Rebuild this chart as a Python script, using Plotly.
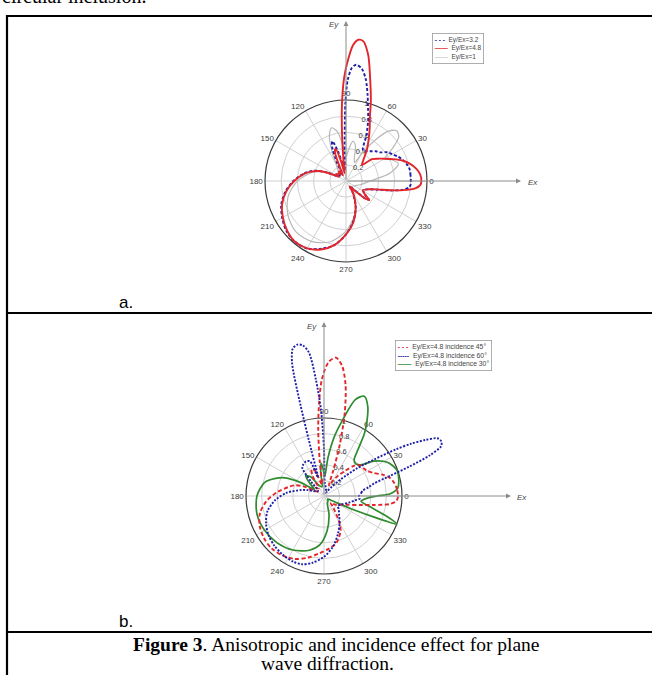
import plotly.graph_objects as go

W, H = 652, 675

# ---------------- data ----------------
ANGLE_TICKS = [0, 30, 60, 90, 120, 150, 180, 210, 240, 270, 300, 330]
RADIAL_TICKS = [0.2, 0.4, 0.6, 0.8, 1.0]
RADIAL_LABELS = ["0.2", "0.4", "0.6", "0.8", "1"]

# panel a : Ey/Ex = 4.8
theta_a_48 = [0, 5, 10, 15, 20, 25, 30, 35, 40, 45, 50, 56, 62, 66, 69, 73, 77, 80, 83, 85,
              87, 89, 91, 93, 95, 97, 100, 104, 108, 111, 114, 118, 125, 135, 145, 150, 155, 160, 165, 170,
              180, 190, 200, 210, 220, 230, 240, 250, 260, 270, 280, 290, 300, 305, 312, 318, 321, 325, 332, 340,
              345, 348, 351, 354, 357, 360]
r_a_48 = [0.93, 0.92, 0.88, 0.82, 0.74, 0.64, 0.55, 0.48, 0.42, 0.28, 0.33, 0.46, 0.60, 0.72, 0.82, 1.05, 1.32, 1.58, 1.74, 1.75,
          1.68, 1.50, 1.28, 0.95, 0.55, 0.25, 0.10, 0.25, 0.42, 0.38, 0.20, 0.08, 0.15, 0.12, 0.15, 0.10, 0.22, 0.36, 0.45, 0.52,
          0.64, 0.75, 0.84, 0.90, 0.95, 0.98, 0.96, 0.90, 0.80, 0.66, 0.52, 0.35, 0.18, 0.08, 0.15, 0.33, 0.37, 0.28, 0.24, 0.30,
          0.40, 0.55, 0.72, 0.86, 0.92, 0.93]

# panel a : Ey/Ex = 3.2
theta_a_32 = [0, 5, 10, 15, 20, 25, 30, 35, 40, 45, 50, 55, 61, 66, 70, 73, 76, 79, 82, 85,
              87, 89, 90.5, 91.5, 93, 96, 100, 105, 109, 112, 116, 120, 130, 140, 150, 155, 160, 165, 170, 180,
              190, 200, 210, 220, 230, 240, 250, 260, 270, 280, 290, 300, 305, 312, 318, 321, 325, 332, 340, 345,
              348, 351, 354, 357, 360]
r_a_32 = [0.80, 0.80, 0.80, 0.78, 0.75, 0.71, 0.66, 0.62, 0.55, 0.52, 0.48, 0.45, 0.43, 0.62, 0.80, 0.93, 1.10, 1.28, 1.40, 1.44,
          1.40, 1.25, 0.95, 0.60, 0.35, 0.14, 0.18, 0.38, 0.52, 0.46, 0.25, 0.10, 0.14, 0.10, 0.12, 0.22, 0.37, 0.46, 0.53, 0.65,
          0.76, 0.85, 0.91, 0.96, 0.98, 0.96, 0.89, 0.80, 0.66, 0.51, 0.35, 0.17, 0.08, 0.14, 0.32, 0.36, 0.28, 0.24, 0.30, 0.42,
          0.56, 0.70, 0.78, 0.80, 0.80]

# panel a : Ey/Ex = 1
theta_a_1 = [0, 10, 18, 25, 30, 35, 40, 45, 50, 55, 60, 65, 70, 75, 80, 85, 90, 95, 100, 105,
             110, 115, 120, 130, 145, 155, 165, 180, 195, 210, 225, 240, 255, 270, 285, 300, 315, 330, 345, 360]
r_a_1 = [0.30, 0.55, 0.68, 0.62, 0.55, 0.70, 0.85, 0.88, 0.80, 0.60, 0.40, 0.25, 0.30, 0.45, 0.50, 0.40, 0.30, 0.45, 0.62, 0.68,
         0.60, 0.42, 0.25, 0.15, 0.12, 0.25, 0.42, 0.60, 0.74, 0.83, 0.88, 0.86, 0.78, 0.62, 0.42, 0.22, 0.10, 0.12, 0.18, 0.30]

# panel b : Ey/Ex = 4.8, incidence 45
theta_b_45 = [0, 5, 10, 15, 20, 25, 30, 35, 40, 45, 50, 55, 60, 65, 70, 73, 76, 79, 82, 85,
              88, 91, 93, 95, 97, 100, 105, 110, 115, 120, 125, 135, 145, 155, 160, 165, 175, 185, 195, 205,
              215, 225, 235, 245, 255, 265, 275, 285, 295, 300, 308, 315, 322, 330, 340, 346, 350, 353, 356, 360]
r_b_45 = [0.95, 0.94, 0.92, 0.88, 0.80, 0.70, 0.64, 0.62, 0.61, 0.55, 0.42, 0.32, 0.22, 0.15, 0.35, 0.70, 1.10, 1.45, 1.68, 1.78,
          1.72, 1.50, 1.20, 0.85, 0.45, 0.15, 0.20, 0.35, 0.38, 0.28, 0.12, 0.15, 0.10, 0.30, 0.40, 0.46, 0.60, 0.74, 0.85, 0.91,
          0.94, 0.95, 0.93, 0.89, 0.82, 0.74, 0.68, 0.62, 0.50, 0.40, 0.20, 0.12, 0.18, 0.22, 0.33, 0.48, 0.66, 0.85, 0.93, 0.95]

# panel b : Ey/Ex = 4.8, incidence 60
theta_b_60 = [0, 5, 8, 11, 14, 17, 19, 21, 23, 25, 27, 29, 31, 33, 36, 40, 45, 50, 55, 60,
              75, 85, 88, 90, 92, 94, 96, 98, 100, 102, 103.5, 104.5, 105.5, 108, 112, 118, 124, 128, 132, 140,
              150, 160, 165, 175, 185, 195, 205, 215, 225, 235, 245, 252, 260, 270, 280, 290, 300, 310, 317, 325,
              335, 345, 352, 356, 360]
r_b_60 = [0.45, 0.48, 0.50, 0.58, 0.66, 0.89, 1.15, 1.45, 1.63, 1.66, 1.63, 1.48, 1.30, 1.10, 0.80, 0.55, 0.30, 0.15, 0.08, 0.05,
          0.10, 0.15, 0.20, 0.60, 1.10, 1.50, 1.85, 1.95, 1.97, 1.93, 1.75, 1.20, 0.60, 0.25, 0.48, 0.50, 0.48, 0.45, 0.25, 0.10,
          0.12, 0.22, 0.30, 0.48, 0.63, 0.75, 0.82, 0.87, 0.90, 0.92, 0.93, 0.92, 0.87, 0.78, 0.66, 0.52, 0.40, 0.30, 0.26, 0.22,
          0.25, 0.33, 0.40, 0.46, 0.45]

# panel b : Ey/Ex = 4.8, incidence 30
theta_b_30 = [0, 2, 6, 12, 20, 28, 35, 40, 45, 50, 54, 57, 60, 64, 68, 72, 76, 80, 84, 88,
              92, 95, 98, 102, 115, 125, 132, 138, 145, 150, 155, 160, 167, 180, 195, 210, 225, 240, 255, 265,
              275, 285, 295, 310, 320, 330, 335, 339, 342, 347, 352, 357, 360]
r_b_30 = [0.68, 0.85, 0.95, 0.98, 0.99, 0.92, 0.78, 0.62, 0.58, 0.60, 0.75, 0.95, 1.10, 1.28, 1.38, 1.30, 1.02, 0.78, 0.50, 0.25,
          0.35, 0.42, 0.30, 0.12, 0.15, 0.30, 0.35, 0.25, 0.15, 0.35, 0.55, 0.66, 0.78, 0.86, 0.89, 0.88, 0.85, 0.80, 0.72, 0.63,
          0.45, 0.25, 0.10, 0.08, 0.06, 0.12, 0.40, 1.00, 0.85, 0.60, 0.48, 0.55, 0.68]

# ---------------- layout helpers ----------------
def px(x):
    return x / W


def py(y):
    return 1 - y / H


def domain(cx, cy, rad):
    return dict(x=[(cx - rad) / W, (cx + rad) / W], y=[(H - cy - rad) / H, (H - cy + rad) / H])


A_C, A_R = (346, 181), 81
B_C, B_R = (324, 496), 78
DATA_R = 172

RED, BLUE, GREEN, GRAY = "#e3262b", "#1f1fa8", "#2e8b2e", "#b8b8b8"
SANS = "Arial, Liberation Sans, sans-serif"
SERIF = "Times New Roman, Liberation Serif, serif"

fig = go.Figure()

# invisible anchors so that the grid subplots are drawn
for sp in ("polar", "polar3"):
    fig.add_trace(go.Scatterpolar(r=[0], theta=[0], mode="markers", marker=dict(opacity=0, size=1),
                                  subplot=sp, hoverinfo="skip", showlegend=False))

# panel a data (subplot polar2)
fig.add_trace(go.Scatterpolar(r=r_a_1, theta=theta_a_1, mode="lines", name="Ey/Ex=1",
                              line=dict(color=GRAY, width=1.2, shape="spline", smoothing=0.8),
                              subplot="polar2", cliponaxis=False))
fig.add_trace(go.Scatterpolar(r=r_a_32, theta=theta_a_32, mode="lines", name="Ey/Ex=3.2",
                              line=dict(color=BLUE, width=1.9, dash="3px,2px", shape="spline", smoothing=0.8),
                              subplot="polar2", cliponaxis=False))
fig.add_trace(go.Scatterpolar(r=r_a_48, theta=theta_a_48, mode="lines", name="Ey/Ex=4.8",
                              line=dict(color=RED, width=1.9, shape="spline", smoothing=0.8),
                              subplot="polar2", cliponaxis=False))
# panel b data (subplot polar4)
fig.add_trace(go.Scatterpolar(r=r_b_30, theta=theta_b_30, mode="lines", name="Ey/Ex=4.8 incidence 30°",
                              line=dict(color=GREEN, width=1.7, shape="spline", smoothing=0.8),
                              subplot="polar4", cliponaxis=False))
fig.add_trace(go.Scatterpolar(r=r_b_45, theta=theta_b_45, mode="lines", name="Ey/Ex=4.8 incidence 45°",
                              line=dict(color=RED, width=1.9, dash="4px,2.5px", shape="spline", smoothing=0.8),
                              subplot="polar4", cliponaxis=False))
fig.add_trace(go.Scatterpolar(r=r_b_60, theta=theta_b_60, mode="lines", name="Ey/Ex=4.8 incidence 60°",
                              line=dict(color=BLUE, width=1.9, dash="2px,1.5px", shape="spline", smoothing=0.8),
                              subplot="polar4", cliponaxis=False))


def grid_polar(c, rad):
    return dict(
        domain=domain(c[0], c[1], rad),
        bgcolor="rgba(0,0,0,0)",
        angularaxis=dict(rotation=0, direction="counterclockwise", tickmode="array",
                         tickvals=ANGLE_TICKS, ticktext=[str(a) for a in ANGLE_TICKS],
                         showline=True, linecolor="#3a3a3a", linewidth=1.2,
                         gridcolor="#d0d0d0", gridwidth=1, ticks="",
                         tickfont=dict(family=SANS, size=8, color="#3a3a3a")),
        radialaxis=dict(range=[0, 1], tickmode="array", tickvals=RADIAL_TICKS, ticktext=RADIAL_LABELS,
                        angle=80, tickangle=80, showline=False, ticks="", gridcolor="#d0d0d0",
                        tickfont=dict(family=SANS, size=7.5, color="#3a3a3a")),
    )


def data_polar(c, rad):
    return dict(
        domain=domain(c[0], c[1], DATA_R),
        bgcolor="rgba(0,0,0,0)",
        angularaxis=dict(rotation=0, direction="counterclockwise", visible=False),
        radialaxis=dict(range=[0, DATA_R / rad], visible=False),
    )


fig.update_layout(
    width=W, height=H, margin=dict(l=0, r=0, t=0, b=0),
    paper_bgcolor="white", showlegend=False, dragmode=False,
    polar=grid_polar(A_C, A_R), polar2=data_polar(A_C, A_R),
    polar3=grid_polar(B_C, B_R), polar4=data_polar(B_C, B_R),
)

# table borders
LINE_TOP, LINE_A, LINE_B = 16, 313, 632
line_kw = dict(color="black", width=2.2)
for yl in (LINE_TOP, LINE_A, LINE_B):
    fig.add_shape(type="line", xref="paper", yref="paper", x0=px(7), x1=px(W + 5), y0=py(yl), y1=py(yl), line=line_kw)
fig.add_shape(type="line", xref="paper", yref="paper", x0=px(7), x1=px(7), y0=py(LINE_TOP - 1), y1=py(H + 5), line=line_kw)

ann = []
# text outside the charts
ann.append(dict(text="circular inclusion.", x=px(0), y=py(-4), xanchor="left", yanchor="middle",
                font=dict(family=SERIF, size=20, color="black"), showarrow=False))
ann.append(dict(text="a.", x=px(126), y=py(302), xanchor="center", yanchor="middle",
                font=dict(family=SANS, size=17, color="black"), showarrow=False))
ann.append(dict(text="b.", x=px(126), y=py(LINE_B - 11), xanchor="center", yanchor="middle",
                font=dict(family=SANS, size=17, color="black"), showarrow=False))
ann.append(dict(text="<b>Figure 3</b>. Anisotropic and incidence effect for plane", x=px(336), y=py(LINE_B + 12),
                xanchor="center", yanchor="middle", font=dict(family=SERIF, size=19.5, color="black"), showarrow=False))
ann.append(dict(text="wave diffraction.", x=px(327), y=py(LINE_B + 31), xanchor="center", yanchor="middle",
                font=dict(family=SERIF, size=19.5, color="black"), showarrow=False))

# Ex / Ey axis arrows
arrow_kw = dict(xref="paper", yref="paper", showarrow=True, arrowhead=2, arrowsize=1.0,
                arrowwidth=1, arrowcolor="#8c8c8c", text="", standoff=0)
ann.append(dict(x=px(A_C[0]), y=py(21), ax=0, ay=A_C[1] - 21, **arrow_kw))
ann.append(dict(x=px(521), y=py(A_C[1]), ax=A_C[0] - 521, ay=0, **arrow_kw))
ann.append(dict(x=px(B_C[0]), y=py(322), ax=0, ay=B_C[1] - 322, **arrow_kw))
ann.append(dict(x=px(511), y=py(B_C[1]), ax=B_C[0] - 511, ay=0, **arrow_kw))
lab_kw = dict(xref="paper", yref="paper", showarrow=False, xanchor="center", yanchor="middle",
              font=dict(family=SANS, size=8, color="#444"))
ann.append(dict(text="<i>Ey</i>", x=px(334), y=py(25), **lab_kw))
ann.append(dict(text="<i>Ex</i>", x=px(533), y=py(A_C[1] + 1), **lab_kw))
ann.append(dict(text="<i>Ey</i>", x=px(312), y=py(326), **lab_kw))
ann.append(dict(text="<i>Ex</i>", x=px(522), y=py(B_C[1] + 1), **lab_kw))

# legends drawn as boxed text
leg_kw = dict(xref="paper", yref="paper", showarrow=False, xanchor="left", yanchor="top", align="left",
              font=dict(family=SANS, size=6.5, color="#444"), bordercolor="#9a9a9a", borderwidth=0.8,
              borderpad=2, bgcolor="white")


def key(color, glyph):
    return "<span style='color:%s'><b>%s</b></span>" % (color, glyph)


ann.append(dict(x=px(432), y=py(33),
                text=key(BLUE, "- - -") + "  Ey/Ex=3.2<br>" + key(RED, "——") + "  Ey/Ex=4.8<br>"
                + "<span style='color:%s'>——</span>  Ey/Ex=1" % GRAY, **leg_kw))
ann.append(dict(x=px(395), y=py(340),
                text=key(RED, "- - -") + "  Ey/Ex=4.8 incidence 45°<br>" + key(BLUE, "-----")
                + "  Ey/Ex=4.8 incidence 60°<br>" + key(GREEN, "——") + "  Ey/Ex=4.8 incidence 30°",
                **dict(leg_kw, font=dict(family=SANS, size=6.8, color="#444"))))

fig.update_layout(annotations=ann)

# page without the browser's default body margin, so the figure sits at the window's corner
fig.write_html("out.html", config={"displayModeBar": False, "staticPlot": True},
               post_script="document.body.style.margin='0px';document.body.style.overflow='hidden';")
